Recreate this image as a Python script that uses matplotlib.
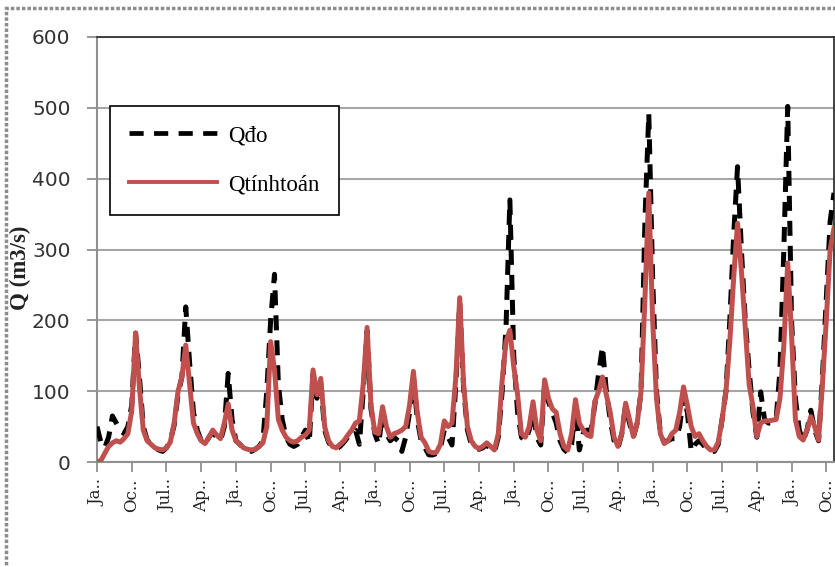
import matplotlib
matplotlib.use("Agg")
import matplotlib.pyplot as plt
from matplotlib.lines import Line2D
from matplotlib.patches import Rectangle
import numpy as np

# Monthly discharge, 16 years (Jan of year 1 ... Dec of year 16)
q_obs = [
    50, 28, 20, 35, 65, 55, 45, 40, 50, 80, 182, 120,
    50, 31, 25, 20, 17, 15, 20, 30, 52, 95, 120, 219,
    140, 70, 45, 30, 25, 35, 42, 35, 30, 50, 125, 60,
    30, 25, 20, 17, 15, 18, 22, 30, 100, 200, 265, 110,
    60, 35, 25, 22, 25, 35, 45, 27, 125, 90, 110, 45,
    28, 20, 18, 22, 28, 35, 40, 45, 25, 100, 185, 75,
    40, 25, 70, 40, 30, 35, 30, 15, 35, 70, 120, 60,
    30, 20, 10, 10, 12, 20, 45, 35, 24, 110, 225, 105,
    45, 25, 20, 18, 20, 25, 17, 14, 35, 100, 190, 370,
    150, 70, 35, 30, 45, 70, 35, 24, 110, 85, 70, 55,
    30, 18, 13, 25, 80, 17, 40, 45, 45, 80, 125, 163,
    100, 60, 30, 19, 40, 80, 55, 35, 55, 100, 340, 492,
    260, 100, 40, 28, 30, 33, 33, 50, 95, 70, 15, 25,
    30, 25, 18, 15, 15, 25, 60, 100, 200, 320, 417, 300,
    200, 130, 70, 35, 99, 60, 55, 55, 60, 130, 300, 502,
    200, 90, 45, 30, 45, 73, 45, 30, 120, 230, 340, 380,
]
q_calc = [
    0, 2, 12, 22, 27, 30, 28, 33, 40, 72, 182, 105,
    45, 30, 25, 20, 18, 17, 20, 28, 55, 100, 120, 165,
    110, 55, 40, 30, 26, 35, 45, 38, 33, 55, 82, 45,
    30, 25, 20, 18, 17, 18, 22, 27, 50, 170, 130, 60,
    45, 35, 30, 28, 30, 35, 38, 45, 130, 95, 118, 50,
    30, 22, 20, 25, 30, 38, 45, 55, 58, 110, 190, 80,
    42, 40, 78, 50, 35, 40, 42, 45, 50, 80, 128, 70,
    35, 27, 15, 13, 14, 25, 58, 50, 55, 120, 232, 110,
    50, 30, 22, 19, 22, 27, 22, 17, 40, 115, 170, 186,
    135, 95, 40, 35, 50, 85, 45, 30, 116, 90, 75, 70,
    40, 22, 17, 40, 88, 55, 45, 38, 36, 85, 100, 120,
    95, 70, 35, 22, 40, 83, 60, 36, 55, 100, 230, 380,
    200, 90, 40, 26, 30, 40, 45, 70, 106, 80, 50, 36,
    40, 30, 22, 17, 17, 28, 60, 100, 170, 260, 337, 270,
    190, 110, 78, 36, 55, 58, 58, 59, 60, 90, 165, 281,
    180, 60, 36, 31, 45, 64, 50, 31, 110, 200, 300, 330,
]
tick_labels = ["Ja..", "Oc..", "Jul..", "Ap.."]
tick_step = 9
legend_labels = ["Qđo", "Qtínhtoán"]
y_label = "Q (m3/s)"

W, H = 835, 567
fig = plt.figure(figsize=(W / 100, H / 100), dpi=100)
fig.patch.set_facecolor("white")

# outer chart frame (dotted grey, cropped on right/bottom)
fig.patches.append(Rectangle((6 / W, -0.2), 1.2, 1.2 - 8 / H,
                             transform=fig.transFigure, fill=False,
                             edgecolor="#8c8c8c", linewidth=2.5,
                             linestyle=(0, (1, 0.6))))

ax = fig.add_axes([97 / W, 1 - 462 / H, (834 - 97) / W, (462 - 37) / H])
x = np.arange(len(q_obs))

ax.plot(x, q_obs, color="black", linewidth=3.6, dashes=(3.0, 2.0),
        solid_capstyle="butt", dash_capstyle="butt", zorder=3)
ax.plot(x, q_calc, color="#C0504D", linewidth=3.6, zorder=4,
        solid_joinstyle="round")

ax.set_xlim(0, len(q_obs) - 1)
ax.set_ylim(0, 600)
ax.set_yticks(np.arange(0, 601, 100))
ax.yaxis.grid(True, color="#a6a6a6", linewidth=1.5)
ax.set_axisbelow(True)

ticks = np.arange(0, len(q_obs), tick_step)
ax.set_xticks(ticks)
ax.set_xticklabels([tick_labels[i % 4] for i in range(len(ticks))],
                   rotation=90, family="DejaVu Serif", fontsize=12,
                   color="#222222")
for lab in ax.get_yticklabels():
    lab.set_family("DejaVu Sans")
    lab.set_fontsize(14.5)
    lab.set_color("#333333")

ax.tick_params(axis="both", direction="out", length=7, width=1.3,
               color="#909090")
ax.tick_params(axis="x", pad=5)
ax.tick_params(axis="y", pad=12)

for s in ["top", "right"]:
    ax.spines[s].set_color("#333333")
    ax.spines[s].set_linewidth(1.3)
for s in ["left", "bottom"]:
    ax.spines[s].set_color("#909090")
    ax.spines[s].set_linewidth(1.5)

fig.text(20 / W, 1 - 268 / H, y_label, rotation=90, ha="center",
         va="center", family="Liberation Serif", fontweight="bold",
         fontsize=16.5, color="#222222")

handles = [
    Line2D([], [], color="black", linewidth=3.4, dashes=(3.0, 2.2)),
    Line2D([], [], color="#C0504D", linewidth=2.8),
]
leg = ax.legend(handles, legend_labels, loc="upper left",
                bbox_to_anchor=((110 - 97) / 737, (462 - 106) / 425),
                borderaxespad=0,
                frameon=True, fancybox=False, framealpha=1,
                edgecolor="black", borderpad=0.85, labelspacing=1.2,
                handlelength=3.8, handletextpad=0.5,
                prop={"family": "Liberation Serif", "size": 16.5})
leg.get_frame().set_linewidth(1.2)

fig.savefig("out.png", dpi=100)
